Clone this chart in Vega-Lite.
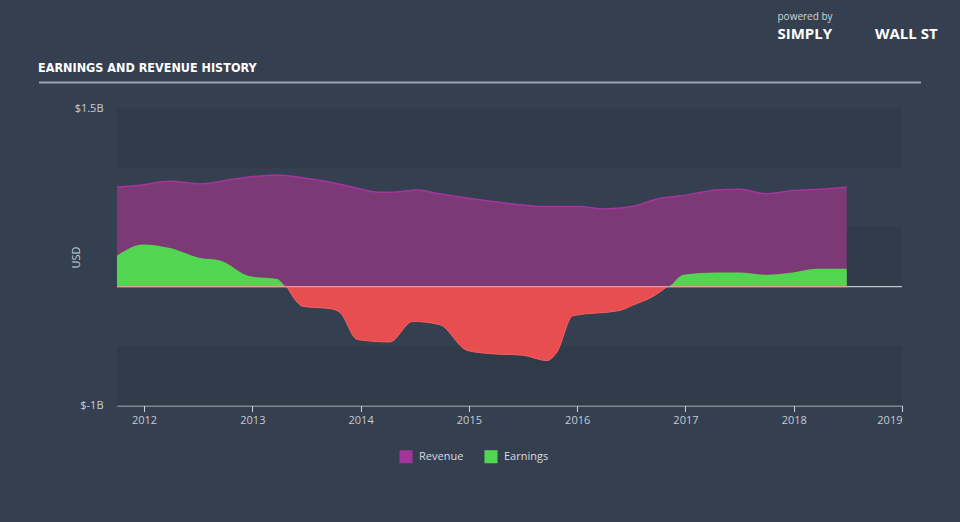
{
  "$schema": "https://vega.github.io/schema/vega-lite/v6.json",
  "width": 785,
  "height": 297,
  "autosize": "none",
  "padding": {"left": 117, "top": 108.5, "right": 58, "bottom": 116.5},
  "background": "#344050",
  "title": {
    "text": "EARNINGS AND REVENUE HISTORY",
    "anchor": "start",
    "frame": "group",
    "dx": -79,
    "dy": 444,
    "offset": 10,
    "font": "DejaVu Sans Condensed, Liberation Sans",
    "fontSize": 12.5,
    "fontWeight": "bold",
    "color": "#ffffff"
  },
  "datasets": {
    "rev": [
      {"t": 2011.75, "v": 0.838}, {"t": 2011.94, "v": 0.851}, {"t": 2012.24, "v": 0.888},
      {"t": 2012.52, "v": 0.866}, {"t": 2012.82, "v": 0.905}, {"t": 2013.23, "v": 0.941},
      {"t": 2013.53, "v": 0.908}, {"t": 2013.84, "v": 0.857}, {"t": 2014.18, "v": 0.796},
      {"t": 2014.30, "v": 0.796}, {"t": 2014.52, "v": 0.815}, {"t": 2014.73, "v": 0.782},
      {"t": 2015.22, "v": 0.717}, {"t": 2015.72, "v": 0.675}, {"t": 2016.02, "v": 0.675},
      {"t": 2016.24, "v": 0.655}, {"t": 2016.51, "v": 0.675}, {"t": 2016.74, "v": 0.739},
      {"t": 2016.98, "v": 0.767}, {"t": 2017.29, "v": 0.815}, {"t": 2017.50, "v": 0.821},
      {"t": 2017.75, "v": 0.782}, {"t": 2017.99, "v": 0.809}, {"t": 2018.24, "v": 0.821},
      {"t": 2018.49, "v": 0.838}
    ],
    "earn": [
      {"t": 2011.75, "v": 0.261}, {"t": 2011.99, "v": 0.355}, {"t": 2012.24, "v": 0.325},
      {"t": 2012.52, "v": 0.241}, {"t": 2012.70, "v": 0.221}, {"t": 2012.98, "v": 0.087},
      {"t": 2013.23, "v": 0.065}, {"t": 2013.32, "v": 0}, {"t": 2013.47, "v": -0.166},
      {"t": 2013.72, "v": -0.185}, {"t": 2013.81, "v": -0.218}, {"t": 2013.97, "v": -0.445},
      {"t": 2014.27, "v": -0.465}, {"t": 2014.48, "v": -0.292}, {"t": 2014.73, "v": -0.319},
      {"t": 2014.98, "v": -0.535}, {"t": 2015.19, "v": -0.563}, {"t": 2015.50, "v": -0.577},
      {"t": 2015.72, "v": -0.622}, {"t": 2015.81, "v": -0.555}, {"t": 2015.96, "v": -0.244},
      {"t": 2016.40, "v": -0.199}, {"t": 2016.51, "v": -0.157}, {"t": 2016.70, "v": -0.082},
      {"t": 2016.83, "v": 0}, {"t": 2016.98, "v": 0.101}, {"t": 2017.29, "v": 0.120},
      {"t": 2017.50, "v": 0.120}, {"t": 2017.75, "v": 0.101}, {"t": 2017.99, "v": 0.120},
      {"t": 2018.21, "v": 0.151}, {"t": 2018.49, "v": 0.151}
    ],
    "bands": [
      {"lo": 1, "hi": 1.5}, {"lo": 0, "hi": 0.5}, {"lo": -1, "hi": -0.5}
    ],
    "zero": [{"v": 0, "k": "line"}]
  },
  "layer": [
    {
      "data": {"name": "bands"},
      "mark": {"type": "rect", "fill": "#2f3b49"},
      "encoding": {
        "y": {
          "field": "lo", "type": "quantitative",
          "scale": {"domain": [-1, 1.5], "nice": false, "zero": false},
          "axis": {
            "values": [-1, 1.5],
            "labelExpr": "'$' + datum.value + 'B'",
            "domain": false, "ticks": false, "grid": false,
            "labelColor": "#c9ced6", "labelFontSize": 11, "labelFont": "Open Sans",
            "labelPadding": 14,
            "title": "USD", "titleColor": "#c9ced6", "titleFont": "Open Sans",
            "titleFontSize": 11, "titleFontWeight": "normal",
            "titleX": -36, "titleY": 148.5, "titleBaseline": "bottom", "titleAngle": -90
          }
        },
        "y2": {"field": "hi"}
      }
    },
    {
      "data": {"name": "zero"},
      "mark": {"type": "rule", "color": "#e4e8ee", "strokeWidth": 1},
      "encoding": {
        "y": {"field": "v", "type": "quantitative", "axis": null},
        "opacity": {
          "field": "k", "type": "nominal",
          "scale": {"range": [1]},
          "legend": {
            "orient": "none", "legendX": -79, "legendY": -468, "title": null,
            "symbolType": "stroke", "symbolSize": 777924, "symbolStrokeColor": "#9aa3ad",
            "symbolStrokeWidth": 2, "labelExpr": "''", "labelOffset": 0, "padding": 0
          }
        }
      }
    },
    {
      "data": {"name": "rev"},
      "mark": {"type": "area", "interpolate": "monotone", "fill": "#7b3a75", "opacity": 1, "fillOpacity": 1, "line": {"stroke": "#a5359c", "strokeWidth": 1.5}},
      "encoding": {
        "x": {
          "field": "t", "type": "quantitative",
          "scale": {"domain": [2011.75, 2019], "nice": false, "zero": false},
          "axis": {
            "values": [2012, 2013, 2014, 2015, 2016, 2017, 2018, 2019],
            "format": "d", "grid": false,
            "domainColor": "#c8d0da", "tickColor": "#c8d0da", "tickSize": 6,
            "labelColor": "#c5cbd3", "labelFontSize": 11, "labelFont": "Open Sans",
            "labelPadding": 3,
            "title": "powered by", "titleColor": "#d0d4da", "titleFont": "Open Sans",
            "titleFontSize": 10, "titleFontWeight": "normal",
            "titleX": 660, "titleY": -389, "titleAlign": "left", "titleBaseline": "middle", "titleAnchor": null
          }
        },
        "y": {"field": "v", "type": "quantitative", "axis": null},
        "color": {
          "datum": "Revenue",
          "scale": {"domain": ["Revenue", "Earnings"], "range": ["#a4339b", "#52d652"]},
          "legend": {
            "orient": "none", "legendX": 282, "legendY": 341, "direction": "horizontal",
            "title": null, "symbolType": "square", "symbolSize": 170, "symbolStrokeWidth": 0,
            "symbolOpacity": 1,
            "labelColor": "#d7dbe0", "labelFont": "Open Sans", "labelFontSize": 11,
            "columnPadding": 20, "labelOffset": 6, "padding": 0
          }
        }
      }
    },
    {
      "data": {"name": "earn"},
      "transform": [{"filter": "datum.v >= 0"}],
      "mark": {"type": "area", "interpolate": "monotone", "opacity": 1},
      "encoding": {
        "x": {
          "field": "t", "type": "quantitative",
          "axis": {
            "orient": "top", "offset": 27, "labels": false, "ticks": false, "grid": false,
            "domain": false,
            "title": "SIMPLY\u00a0\u00a0\u00a0\u00a0\u00a0\u00a0\u00a0\u00a0\u00a0\u00a0\u00a0WALL ST",
            "titleColor": "#ffffff", "titleFont": "Open Sans", "titleFontSize": 15,
            "titleFontWeight": "bold", "titleX": 660, "titleY": -48,
            "titleAlign": "left", "titleBaseline": "middle", "titleAnchor": null
          }
        },
        "y": {"field": "v", "type": "quantitative", "axis": null},
        "color": {
          "datum": "Earnings",
          "scale": {"domain": ["Revenue", "Earnings"], "range": ["#a4339b", "#52d652"]}
        }
      }
    },
    {
      "data": {"name": "earn"},
      "transform": [{"filter": "datum.v <= 0"}],
      "mark": {"type": "area", "interpolate": "monotone", "fill": "#e84e4f", "stroke": "#f26262", "strokeWidth": 1, "opacity": 1},
      "encoding": {
        "x": {"field": "t", "type": "quantitative", "axis": null},
        "y": {"field": "v", "type": "quantitative", "axis": null}
      }
    },
    {
      "data": {"name": "earn"},
      "mark": {"type": "rule", "color": "#f0a0a4", "strokeWidth": 1},
      "encoding": {
        "x": {"aggregate": "min", "field": "t", "type": "quantitative", "axis": null},
        "x2": {"aggregate": "max", "field": "t"},
        "y": {"datum": 0, "type": "quantitative", "axis": null}
      }
    }
  ],
  "resolve": {"axis": {"x": "independent", "y": "independent"}},
  "config": {
    "view": {"stroke": null},
    "axis": {"labelFont": "Open Sans"}
  }
}
